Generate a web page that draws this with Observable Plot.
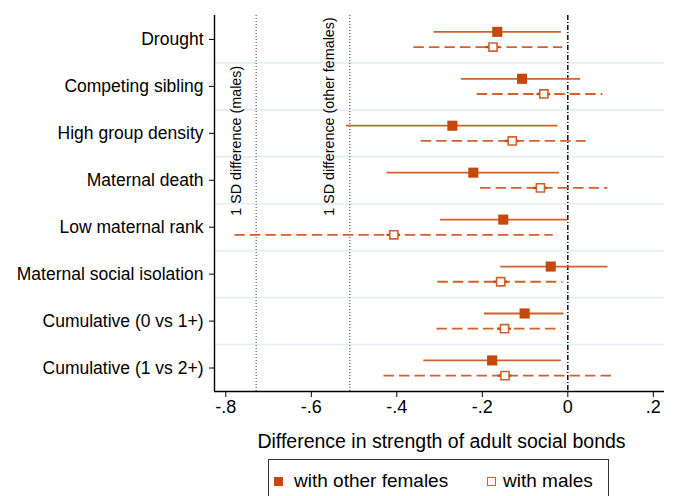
<!DOCTYPE html>
<html>
<head>
<meta charset="utf-8">
<script src="https://cdn.jsdelivr.net/npm/d3@7"></script>
<script src="https://cdn.jsdelivr.net/npm/@observablehq/plot@0.6"></script>
<style>
  html, body { margin: 0; padding: 0; background: white; }
  #wrap { position: relative; width: 674px; height: 496px; overflow: hidden; font-family: "Liberation Sans", Arial, Helvetica, sans-serif; }
  #legend { position: absolute; left: 268px; top: 459px; width: 341px; height: 50px; border: 1px solid #333; box-sizing: border-box; }
  #legend .sw { position: absolute; top: 17px; width: 9px; height: 9px; box-sizing: border-box; }
  #legend .lab { position: absolute; top: 10px; font-size: 19px; color: #000; white-space: nowrap; line-height: 22px; }
</style>
</head>
<body>
<div id="wrap">
  <div id="chart"></div>
  <div id="legend">
    <div class="sw" style="left:5px; background:#c5470c;"></div>
    <div class="lab" style="left:25px;">with other females</div>
    <div class="sw" style="left:218px; border:1.6px solid #d0622c; background:#fff;"></div>
    <div class="lab" style="left:234px;">with males</div>
  </div>
</div>
<script>
const categories = ["Drought","Competing sibling","High group density","Maternal death","Low maternal rank","Maternal social isolation","Cumulative (0 vs 1+)","Cumulative (1 vs 2+)"];
const femEst = [-0.165,-0.107,-0.270,-0.221,-0.151,-0.040,-0.101,-0.177];
const femLo  = [-0.313,-0.249,-0.518,-0.423,-0.298,-0.157,-0.195,-0.337];
const femHi  = [-0.015, 0.030,-0.023,-0.019, 0.000, 0.094,-0.009,-0.015];
const maleEst = [-0.175,-0.056,-0.130,-0.064,-0.407,-0.157,-0.148,-0.147];
const maleLo  = [-0.360,-0.212,-0.343,-0.204,-0.779,-0.304,-0.306,-0.430];
const maleHi  = [-0.012, 0.082, 0.043, 0.094,-0.034,-0.011,-0.015, 0.112];
const sdValues = [-0.729, -0.510];
const sdLabels = ["1 SD difference (males)", "1 SD difference (other females)"];
const xTicks = [-0.8,-0.6,-0.4,-0.2,0,0.2];
const xTitle = "Difference in strength of adult social bonds";

const markerColor = "#c5470c";
const lineColor = "#d0622c";
const off = 0.162;

const rowsF = categories.map((c,i) => ({i, y: i - off, est: femEst[i], lo: femLo[i], hi: femHi[i]}));
const rowsM = categories.map((c,i) => ({i, y: i + off, est: maleEst[i], lo: maleLo[i], hi: maleHi[i]}));
const seps = d3.range(categories.length - 1).map(i => i + 0.5);
const sdRows = sdValues.map((v,k) => ({x: v, y: 3.5, label: sdLabels[k]}));

const fmt = d => d === 0 ? "0" : (d < 0 ? "-" : "") + String(+Math.abs(d).toFixed(1)).replace(/^0/, "");

const chart = Plot.plot({
  width: 674,
  height: 455,
  marginLeft: 214,
  marginRight: 10,
  marginTop: 15,
  marginBottom: 64,
  style: {fontFamily: "'Liberation Sans', Arial, Helvetica, sans-serif", background: "white", color: "#000", overflow: "visible"},
  x: {domain: [-0.8265, 0.2262]},
  y: {domain: [7.5, -0.51]},
  marks: [
    Plot.ruleY(seps, {stroke: "#e5edf2", strokeWidth: 1.6}),
    Plot.ruleX(sdValues, {stroke: "#666", strokeDasharray: "1,2", strokeWidth: 1.3}),
    Plot.ruleX([0], {stroke: "#000", strokeDasharray: "5,2,1,2", strokeWidth: 1.4}),
    Plot.text(sdRows, {x: "x", y: "y", text: "label", rotate: -90, textAnchor: "start", dx: -20, dy: 12, fontSize: 14.3, fill: "#000"}),
    Plot.ruleY(rowsF, {y: "y", x1: "lo", x2: "hi", stroke: lineColor, strokeWidth: 1.8}),
    Plot.ruleY(rowsM, {y: "y", x1: "lo", x2: "hi", stroke: lineColor, strokeWidth: 1.8, strokeDasharray: "10.5,5"}),
    Plot.ruleY(rowsM, {y: "y", x1: d => d.est - 0.016, x2: d => d.est + 0.016, stroke: markerColor, strokeWidth: 2.4}),
    Plot.dot(rowsF, {x: "est", y: "y", symbol: "square", r: 5.7, fill: markerColor, stroke: "none"}),
    Plot.dot(rowsM, {x: "est", y: "y", symbol: "square", r: 4.6, fill: "white", stroke: lineColor, strokeWidth: 1.6}),
    Plot.ruleX([-0.8265], {stroke: "#000", strokeWidth: 1.4}),
    Plot.ruleY([7.5], {stroke: "#000", strokeWidth: 1.4}),
    Plot.axisY(d3.range(categories.length), {tickFormat: i => categories[i], tickSize: 5, tickPadding: 6, fontSize: 17.5, label: null}),
    Plot.axisX(xTicks, {tickFormat: fmt, tickSize: 6, tickPadding: 3, fontSize: 18, label: null}),
    Plot.text([xTitle], {frameAnchor: "bottom", text: d => d, dx: 2, dy: 56, lineAnchor: "bottom", fontSize: 19.5, fill: "#000"})
  ]
});
document.getElementById("chart").appendChild(chart);
</script>
</body>
</html>
